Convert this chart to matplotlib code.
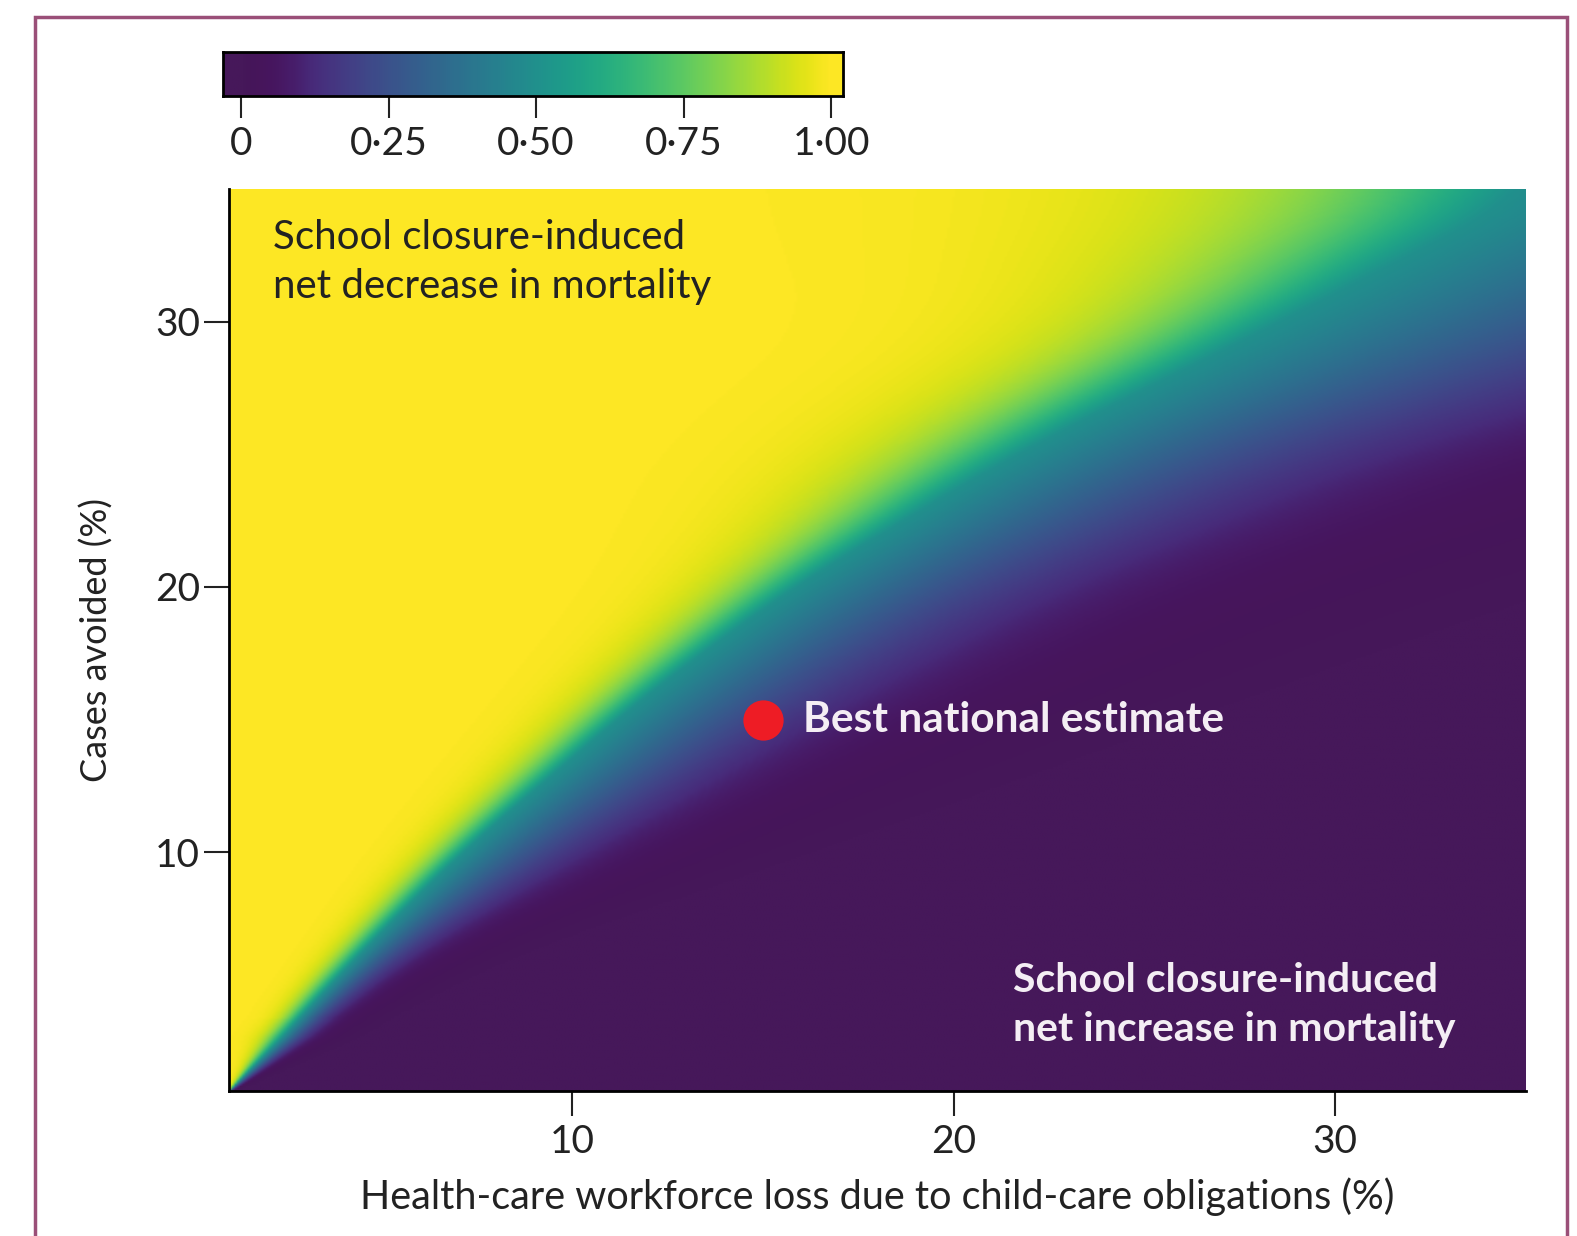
import numpy as np
import matplotlib
matplotlib.use("Agg")
import matplotlib.pyplot as plt
from matplotlib.patches import Rectangle
from matplotlib.colors import ListedColormap, to_rgba

plt.rcParams['font.family'] = ['Lato', 'DejaVu Sans']

# transition band, one row per "cases avoided" level:
# x where the colour is ~0.95, ~0.50 and ~0.05
row_y = [1, 3, 6, 10, 16, 20, 25, 30, 35]
row_x95 = [0.95, 1.66, 3.34, 5.75, 9.9, 12.9, 16.6, 22.0, 24.5]
row_x50 = [1.0, 2.37, 4.29, 7.1, 12.0, 15.8, 21.6, 28.6, 35.3]
row_x05 = [1.1, 3.42, 6.3, 12.0, 20.5, 26.5, 36.0, 50.0, 63.0]

best_x = [15]
best_y = [15]

cbar_ticks = [0, 0.25, 0.5, 0.75, 1.0]
cbar_labels = ['0', '0·25', '0·50', '0·75', '1·00']
x_ticks = [10, 20, 30]
y_ticks = [10, 20, 30]

# build the probability surface from the rows
xs = np.linspace(1, 35, 500)
ys = np.linspace(1, 35, 500)


def smooth_row(vals):
    fine = np.interp(ys, row_y, vals)
    win = 25
    pad = np.pad(fine, win, mode='edge')
    kern = np.ones(2 * win + 1) / (2 * win + 1)
    out = np.convolve(pad, kern, mode='same')[win:-win]
    out[:40] = fine[:40]
    return out


x95 = smooth_row(row_x95)[:, None]
x50 = smooth_row(row_x50)[:, None]
x05 = smooth_row(row_x05)[:, None]
X = xs[None, :]
k = np.log(19)
s_lo = (x50 - x95) / k
s_hi = (x05 - x50) / k
scale = np.where(X < x50, s_lo, s_hi)
Z = 1 / (1 + np.exp((X - x50) / scale))

# viridis, with the darkest end pulled toward the printed purple
cols = plt.get_cmap('viridis')(np.linspace(0, 1, 256))
t = np.linspace(0, 1, 256)[:, None]
w = np.clip(1 - t / 0.12, 0, 1)
cols = cols * (1 - w) + np.array(to_rgba('#46185a')) * w
cmap = ListedColormap(cols)

fig = plt.figure(figsize=(15.77, 12.36), dpi=100)

ax = fig.add_axes([0.1454, 0.1172, 0.822, 0.7299])
ax.imshow(Z, extent=[1, 35, 1, 35], origin='lower', aspect='auto',
          cmap=cmap, vmin=0, vmax=1, interpolation='bilinear')
ax.set_xlim(1, 35)
ax.set_ylim(1, 35)
for side in ['top', 'right']:
    ax.spines[side].set_visible(False)
for side in ['left', 'bottom']:
    ax.spines[side].set_linewidth(2)
ax.set_xticks(x_ticks)
ax.set_yticks(y_ticks)
ax.tick_params(axis='both', length=18, width=1.5, labelsize=28, colors='#222222')
ax.tick_params(axis='x', pad=6)
ax.tick_params(axis='y', pad=3)
ax.set_xlabel('Health-care workforce loss due to child-care obligations (%)',
              fontsize=28.5, labelpad=12, color='#222222')
ax.set_ylabel('Cases avoided (%)', fontsize=26, labelpad=30, color='#222222')

ax.plot(best_x, best_y, 'o', color='#ee1c25', markersize=29, markeredgewidth=0)
ax.text(best_x[0] + 1.05, best_y[0], 'Best national estimate', fontsize=30.5,
        fontweight='bold', color='#f4eef4', va='center', ha='left')

ax.text(2.15, 33.85, 'School closure-induced\nnet decrease in mortality',
        fontsize=29, color='#222222', va='top', ha='left', linespacing=1.4)
ax.text(21.55, 5.85, 'School closure-induced\nnet increase in mortality',
        fontsize=29.5, fontweight='bold', color='#f4eef4', va='top', ha='left',
        linespacing=1.4)

# colour bar drawn by hand so it can run a little past 0 and 1
cax = fig.add_axes([0.1416, 0.9227, 0.3929, 0.035])
grad = np.linspace(-0.03, 1.02, 300).reshape(1, -1)
cax.imshow(grad, extent=[-0.03, 1.02, 0, 1], aspect='auto', cmap=cmap,
           vmin=0, vmax=1)
cax.set_xlim(-0.03, 1.02)
cax.set_yticks([])
cax.set_xticks(cbar_ticks)
cax.set_xticklabels(cbar_labels)
for sp in cax.spines.values():
    sp.set_linewidth(2)
cax.tick_params(axis='x', length=16, width=1.5, labelsize=28, pad=6,
                colors='#222222')

fig.patches.append(Rectangle((0.0223, -0.02), 0.9713, 1.006, transform=fig.transFigure,
                             fill=False, edgecolor='#9a4f78', linewidth=2.5))

fig.savefig('out.png', dpi=100)
